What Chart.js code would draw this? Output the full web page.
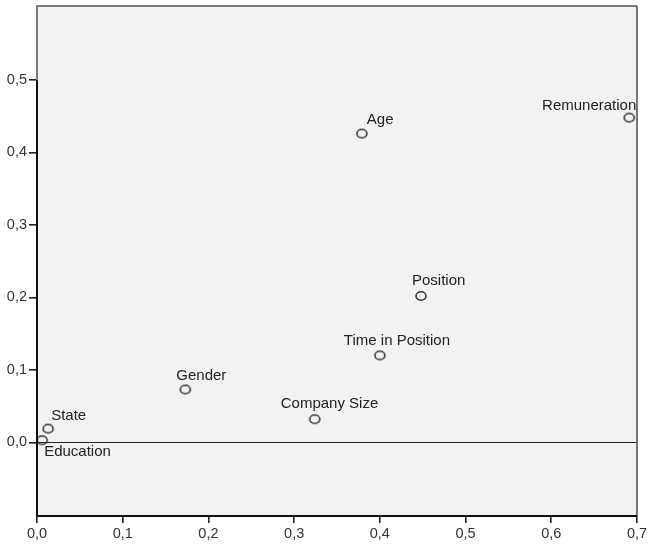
<!DOCTYPE html>
<html>
<head>
<meta charset="utf-8">
<script src="https://cdn.jsdelivr.net/npm/chart.js@4.4.1/dist/chart.umd.min.js"></script>
<style>
  html, body { margin: 0; padding: 0; background: #fff; }
  #wrap { width: 650px; height: 555px; }
</style>
</head>
<body>
<div id="wrap"><canvas id="scatter" width="650" height="555"></canvas></div>
<script>
// Variables (names) and their coordinates
const variableNames = ['Education', 'State', 'Gender', 'Company Size', 'Time in Position', 'Position', 'Age', 'Remuneration'];
const xValues = [0.006, 0.013, 0.173, 0.324, 0.400, 0.448, 0.379, 0.691];
const yValues = [0.003, 0.019, 0.073, 0.032, 0.120, 0.202, 0.426, 0.448];

// Tick values of both axes
const xTicks = [0, 0.1, 0.2, 0.3, 0.4, 0.5, 0.6, 0.7];
const yTicks = [0, 0.1, 0.2, 0.3, 0.4, 0.5];

// Label placement next to each marker (dx, dy from the point, align)
const labelPlacement = {
    'Education': [2, 12, 'left'],
    'State': [3, -13, 'left'],
    'Gender': [-9, -14, 'left'],
    'Company Size': [-34, -15, 'left'],
    'Time in Position': [-36, -15, 'left'],
    'Position': [-9, -15, 'left'],
    'Age': [5, -14, 'left'],
    'Remuneration': [7, -12, 'right']
};

const fontFamily = '"Liberation Sans", Arial, sans-serif';
const decimalComma = v => Number(v).toFixed(1).replace('.', ',');

// Open oval marker, like in the original output
const marker = document.createElement('canvas');
marker.width = 14;
marker.height = 12;
(function () {
    const c = marker.getContext('2d');
    c.strokeStyle = '#333';
    c.lineWidth = 1.6;
    c.beginPath();
    c.ellipse(7, 6, 5, 4.2, 0, 0, Math.PI * 2);
    c.stroke();
})();

// Plot background, zero line, frame and point labels
const framePlugin = {
    id: 'frame',
    beforeDraw(chart) {
        const { ctx, chartArea: a } = chart;
        ctx.save();
        ctx.fillStyle = '#f2f2f2';
        ctx.fillRect(a.left, a.top, a.right - a.left, a.bottom - a.top);
        ctx.restore();
    },
    beforeDatasetsDraw(chart) {
        const { ctx, chartArea: a, scales } = chart;
        const y0 = Math.round(scales.y.getPixelForValue(0)) + 0.5;
        ctx.save();
        ctx.strokeStyle = '#222';
        ctx.lineWidth = 1;
        ctx.beginPath();
        ctx.moveTo(a.left, y0);
        ctx.lineTo(a.right, y0);
        ctx.stroke();
        ctx.restore();
    },
    afterDraw(chart) {
        const { ctx, chartArea: a, scales } = chart;
        const yTop = scales.y.getPixelForValue(yTicks[yTicks.length - 1]);
        ctx.save();
        // grey frame (top, right, upper left)
        ctx.strokeStyle = '#7a7a7a';
        ctx.lineWidth = 2;
        ctx.beginPath();
        ctx.moveTo(a.left, yTop);
        ctx.lineTo(a.left, a.top);
        ctx.lineTo(a.right, a.top);
        ctx.stroke();
        ctx.strokeStyle = '#555';
        ctx.lineWidth = 1.6;
        ctx.beginPath();
        ctx.moveTo(a.right, a.top);
        ctx.lineTo(a.right, a.bottom);
        ctx.stroke();
        // black axes
        ctx.strokeStyle = '#111';
        ctx.lineWidth = 2;
        ctx.beginPath();
        ctx.moveTo(a.left, yTop);
        ctx.lineTo(a.left, a.bottom);
        ctx.lineTo(a.right, a.bottom);
        ctx.stroke();

        // point labels
        const meta = chart.getDatasetMeta(0);
        ctx.font = '15px ' + fontFamily;
        ctx.fillStyle = '#222';
        ctx.textBaseline = 'middle';
        meta.data.forEach((pt, i) => {
            const name = variableNames[i];
            const p = labelPlacement[name];
            ctx.textAlign = p[2];
            ctx.fillText(name, pt.x + p[0], pt.y + p[1]);
        });
        ctx.restore();
    }
};

new Chart(document.getElementById('scatter'), {
    type: 'scatter',
    data: {
        datasets: [{
            data: xValues.map((x, i) => ({ x: x, y: yValues[i] })),
            pointStyle: marker,
            pointRadius: 5,
            pointHoverRadius: 5
        }]
    },
    options: {
        responsive: false,
        animation: false,
        devicePixelRatio: 1,
        layout: { padding: { top: 5, right: 13, left: 0, bottom: 0 } },
        plugins: {
            legend: { display: false },
            tooltip: { enabled: false }
        },
        scales: {
            x: {
                type: 'linear',
                min: 0,
                max: 0.7,
                afterBuildTicks: s => { s.ticks = xTicks.map(v => ({ value: v })); },
                afterFit: s => { s.height = 39; s.paddingLeft = 0; s.paddingRight = 0; },
                grid: { drawOnChartArea: false, drawTicks: true, tickLength: 7, color: '#222', lineWidth: 1.6 },
                border: { display: false },
                ticks: {
                    color: '#333',
                    padding: 2,
                    maxRotation: 0,
                    font: { family: fontFamily, size: 14.5 },
                    callback: decimalComma
                }
            },
            y: {
                type: 'linear',
                min: -0.1015,
                max: 0.602,
                afterBuildTicks: s => { s.ticks = yTicks.map(v => ({ value: v })); },
                afterFit: s => { s.width = 37; s.paddingTop = 0; s.paddingBottom = 0; },
                grid: { drawOnChartArea: false, drawTicks: true, tickLength: 8, color: '#222', lineWidth: 1.6 },
                border: { display: false },
                ticks: {
                    color: '#333',
                    padding: 2,
                    font: { family: fontFamily, size: 14.5 },
                    callback: decimalComma
                }
            }
        }
    },
    plugins: [framePlugin]
});
</script>
</body>
</html>
